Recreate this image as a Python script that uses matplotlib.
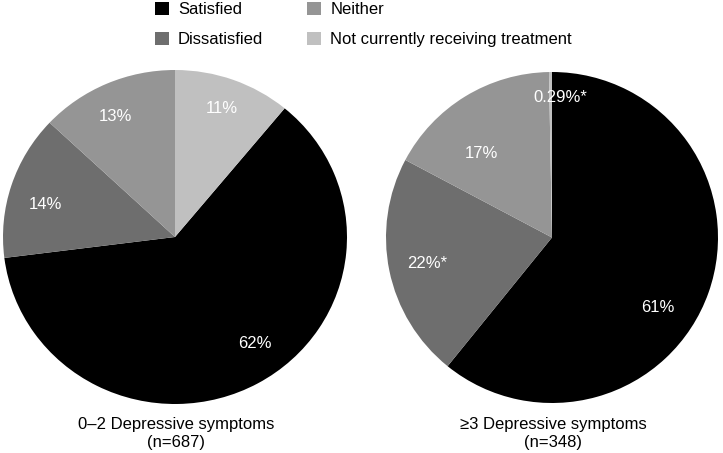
import matplotlib.pyplot as plt
from matplotlib.patches import Patch
from matplotlib import font_manager

names = {f.name for f in font_manager.fontManager.ttflist}
if 'Liberation Sans Narrow' in names:
    plt.rcParams['font.family'] = ['Liberation Sans Narrow', 'DejaVu Sans']
    fs = 14
else:
    plt.rcParams['font.family'] = ['Liberation Sans', 'DejaVu Sans']
    fs = 12

categories = ['Satisfied', 'Dissatisfied', 'Neither', 'Not currently receiving treatment']
colors = ['#000000', '#6e6e6e', '#959595', '#c0c0c0']

group_titles = ['0\u20132 Depressive symptoms', '\u22653 Depressive symptoms']
group_n = ['(n=687)', '(n=348)']
left_values = [62, 14, 13, 11]
right_values = [61, 22, 17, 0.29]
left_labels = ['62%', '14%', '13%', '11%']
right_labels = ['61%', '22%*', '17%', '0.29%*']

# label positions inside each pie (pie radius = 1)
left_label_pos = [(0.465, -0.635), (-0.756, 0.192), (-0.349, 0.719), (0.273, 0.772)]
right_label_pos = [(0.639, -0.424), (-0.753, -0.158), (-0.428, 0.509), (0.048, 0.848)]

W, H = 723, 453
fig = plt.figure(figsize=(W / 100, H / 100), dpi=100)

def px_axes(x0, y0, x1, y1):
    return fig.add_axes([x0 / W, 1 - y1 / H, (x1 - x0) / W, (y1 - y0) / H])

ax_l = px_axes(3, 70, 347, 404)
ax_r = px_axes(386, 72, 718, 403)

pies = [
    (ax_l, left_values, left_labels, left_label_pos,
     90 - 360 * left_values[-1] / sum(left_values)),
    (ax_r, right_values, right_labels, right_label_pos, 90),
]

for ax, vals, labels, pos, start in pies:
    ax.pie(vals, colors=colors, startangle=start, counterclock=False,
           radius=1, wedgeprops=dict(linewidth=0))
    ax.set_aspect('auto')
    ax.set_xlim(-1, 1)
    ax.set_ylim(-1, 1)
    ax.axis('off')
    for lab, (x, y) in zip(labels, pos):
        ax.text(x, y, lab, color='white', fontsize=fs, ha='center', va='center')

title_x = [176, 553]
for tx, title, n in zip(title_x, group_titles, group_n):
    fig.text(tx / W, 1 - 424 / H, title, ha='center', va='center', fontsize=fs)
    fig.text(tx / W, 1 - 443 / H, n, ha='center', va='center', fontsize=fs)

handles = [Patch(facecolor=c, edgecolor='none') for c in colors]
fig.legend(handles, categories, loc='upper left', bbox_to_anchor=(155 / W, 1 - 2 / H),
           ncol=2, frameon=False, fontsize=fs, borderpad=0, borderaxespad=0,
           handlelength=14 / (fs * 1.389), handleheight=14 / (fs * 1.389),
           handletextpad=9 / (fs * 1.389), columnspacing=44 / (fs * 1.389),
           labelspacing=0.85)

fig.savefig('out.png', dpi=100)
